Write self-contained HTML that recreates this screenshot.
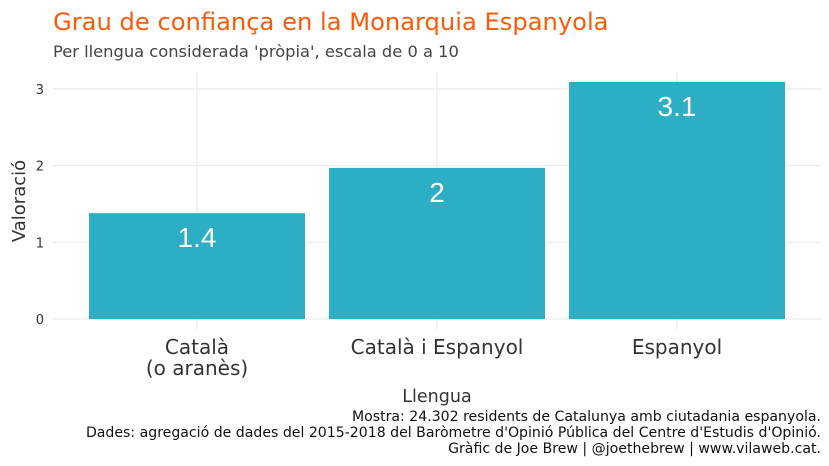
<!DOCTYPE html>
<html><head><meta charset="utf-8"><style>
body{margin:0;background:#fff;}
svg{display:block;font-family:"DejaVu Sans","Liberation Sans",sans-serif;}
</style></head><body>
<svg id="chart" width="829" height="466" xmlns="http://www.w3.org/2000/svg">
<text x="53" y="30" font-size="24.2" fill="#FF5A0A">Grau de confiança en la Monarquia Espanyola</text>
<text x="53" y="57" font-size="16.3" fill="#444">Per llengua considerada 'pròpia', escala de 0 a 10</text>
<g id="grid"></g><g id="bars"></g><g id="axes"></g>
<text x="25" y="201" font-size="18" fill="#333" text-anchor="middle" transform="rotate(-90 25 201)">Valoració</text>
<text x="437" y="402" font-size="17.5" fill="#333" text-anchor="middle">Llengua</text>
<g font-size="14.1" fill="#111" text-anchor="end">
<text x="821" y="421">Mostra: 24.302 residents de Catalunya amb ciutadania espanyola.</text>
<text x="821" y="437">Dades: agregació de dades del 2015-2018 del Baròmetre d'Opinió Pública del Centre d'Estudis d'Opinió.</text>
<text x="821" y="453">Gràfic de Joe Brew | @joethebrew | www.vilaweb.cat.</text>
</g>
</svg>
<script>
const categories=[["Català","(o aranès)"],["Català i Espanyol"],["Espanyol"]];
const values=[1.38,1.97,3.09];
const labels=["1.4","2","3.1"];
const yTicks=[0,1,2,3];
const NS="http://www.w3.org/2000/svg";
const x0=53,x1=822,yTop=72,yBot=330;
const cx=i=>197+240*i;
const y=v=>319-v*76.7;
const bw=216;
function mk(t,a,p){const e=document.createElementNS(NS,t);for(const k in a)e.setAttribute(k,a[k]);p.appendChild(e);return e;}
const g=document.getElementById('grid'),b=document.getElementById('bars'),ax=document.getElementById('axes');
yTicks.forEach(t=>{
 const l=mk('line',{x1:x0,x2:x1,y1:y(t),y2:y(t),stroke:'#ebebeb','stroke-width':1.2},g);
 
 
 const tx=mk('text',{x:44,y:y(t)+5,'font-size':13,fill:'#333','text-anchor':'end'},ax);
 tx.textContent=t;
 
 
});
categories.forEach((c,i)=>{
 const l=mk('line',{x1:cx(i),x2:cx(i),y1:yTop,y2:yBot,stroke:'#ebebeb','stroke-width':1.2},g);
 
 
 const r=mk('rect',{x:cx(i)-bw/2,y:y(values[i]),width:bw,height:y(0)-y(values[i]),fill:'#2CAFC5'},b);
 
 
 const vt=mk('text',{x:cx(i),y:y(values[i])+34,'font-size':28,fill:'#fff','text-anchor':'middle','font-family':'Liberation Sans, sans-serif'},b);
 vt.textContent=labels[i];
 
 
 c.forEach((s,j)=>{
  const t=mk('text',{x:cx(i),y:354+j*21,'font-size':20,fill:'#333','text-anchor':'middle'},ax);
  t.textContent=s;
  
  
 });
});
</script>
</body></html>
